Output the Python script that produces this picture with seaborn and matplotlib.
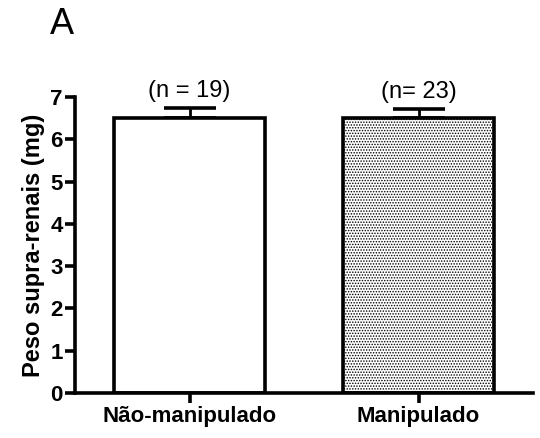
import matplotlib
matplotlib.use("Agg")
import matplotlib.pyplot as plt
import seaborn as sns
import pandas as pd

# values
groups = ["Não-manipulado", "Manipulado"]
means = [6.50, 6.51]
sems = [0.23, 0.20]
n_labels = ["(n = 19)", "(n= 23)"]

sns.set_style("ticks")
plt.rcParams["font.family"] = ["Liberation Sans", "DejaVu Sans"]
plt.rcParams["hatch.linewidth"] = 0.7
for k in ["text.color", "axes.labelcolor", "xtick.color", "ytick.color", "axes.edgecolor"]:
    plt.rcParams[k] = "black"

df = pd.DataFrame({"grupo": groups, "peso": means})

fig = plt.figure(figsize=(5.4, 4.38), dpi=100)
ax = fig.add_axes([0.139, 0.1027, 0.848, 0.6758])

# one-sided error bars (mean + SEM), drawn behind the bars
ax.errorbar(range(len(groups)), means, yerr=[[0] * len(sems), sems],
            fmt="none", ecolor="black", elinewidth=2.0, capsize=19,
            capthick=2.6, zorder=1)

sns.barplot(data=df, x="grupo", y="peso", order=groups, width=0.66,
            color="white", edgecolor="black", linewidth=2.6,
            errorbar=None, ax=ax, zorder=2)
ax.patches[1].set_hatch("......")

for i, lab in enumerate(n_labels):
    ax.text(i, means[i] + sems[i] + 0.15, lab, ha="center", va="bottom",
            fontsize=17)

ax.set_xlim(-0.5, 1.5)
ax.set_ylim(0, 7)
ax.set_yticks(range(0, 8))
ax.set_xlabel("")
ax.set_ylabel("Peso supra-renais (mg)", fontsize=17, fontweight="bold",
              labelpad=4)
sns.despine(ax=ax)
for s in ["left", "bottom"]:
    ax.spines[s].set_linewidth(2.6)
ax.tick_params(axis="both", width=2.6, length=7, labelsize=16, pad=2)
for t in ax.get_xticklabels() + ax.get_yticklabels():
    t.set_fontweight("bold")

fig.text(0.093, 0.905, "A", fontsize=26, ha="left", va="bottom")

fig.savefig("out.png", dpi=100)
